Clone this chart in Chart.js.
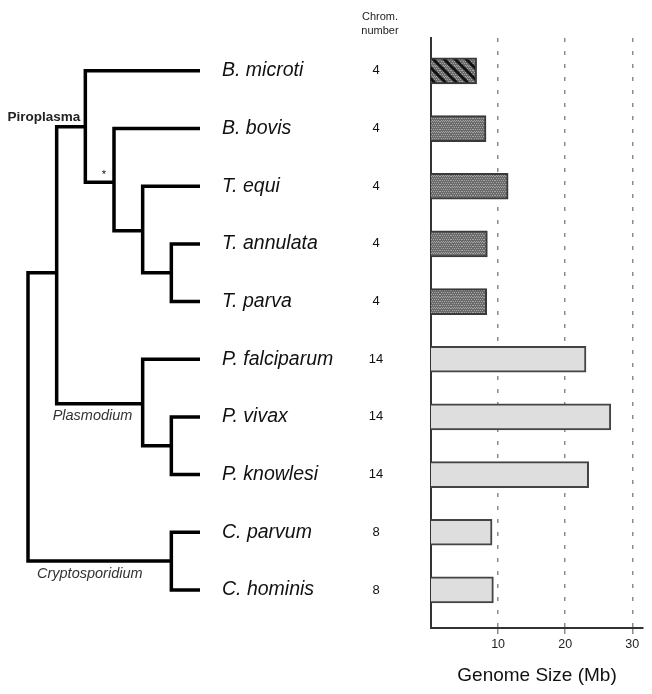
<!DOCTYPE html>
<html>
<head>
<meta charset="utf-8">
<script src="https://cdn.jsdelivr.net/npm/chart.js@4.4.1/dist/chart.umd.min.js"></script>
<style>
    html, body { margin: 0; padding: 0; background: #fff; }
    .chart-wrap { position: relative; width: 652px; height: 694px; }
    .chart-wrap canvas { position: absolute; left: 0; top: 0; }
</style>
</head>
<body>
<div class="chart-wrap">
    <canvas id="barChart" width="652" height="694"></canvas>
    <canvas id="treeChart" width="652" height="694"></canvas>
</div>
<script>
// species, top to bottom
const species = ['B. microti', 'B. bovis', 'T. equi', 'T. annulata', 'T. parva',
    'P. falciparum', 'P. vivax', 'P. knowlesi', 'C. parvum', 'C. hominis'];
const clade = ['Piroplasma', 'Piroplasma', 'Piroplasma', 'Piroplasma', 'Piroplasma',
    'Plasmodium', 'Plasmodium', 'Plasmodium', 'Cryptosporidium', 'Cryptosporidium'];
const chromNumber = [4, 4, 4, 4, 4, 14, 14, 14, 8, 8];
const genomeSize = [6.8, 8.2, 11.5, 8.4, 8.3, 23.1, 26.8, 23.5, 9.1, 9.3];
const xTicks = [10, 20, 30];

// tree: internal nodes (depth from root, row position, upper and lower child)
// a number as child means the species row, a string is another node
const nodeNames = ['root', 'apic', 'piro', 'nBov', 'nEqu', 'nThe', 'plas', 'nViv', 'cryp'];
const nodeDepth = [0, 1, 2, 3, 4, 5, 4, 5, 5];
const nodeRow = [null, 3.5, 0.97, 1.93, 2.77, 3.5, 5.77, 6.5, 8.5];
const nodeUpper = ['apic', 'piro', 0, 1, 2, 3, 5, 6, 8];
const nodeLower = ['cryp', 'plas', 'nBov', 'nEqu', 'nThe', 4, 'nViv', 7, 9];
const leafDepth = 6;

const rowMin = -0.57, rowMax = 9.66;
const FONT = "'Liberation Sans', Arial, sans-serif";

function makePattern(hatch) {
    const s = 11;
    const c = document.createElement('canvas');
    c.width = s; c.height = s;
    const g = c.getContext('2d');
    g.fillStyle = '#6b6b6b';
    g.fillRect(0, 0, s, s);
    g.fillStyle = '#a4a4a4';
    for (let y = 0; y < s; y += 2) {
        for (let x = (y % 4 ? 1 : 0); x < s; x += 2) g.fillRect(x, y, 1, 1);
    }
    if (hatch) {
        g.strokeStyle = '#111';
        g.lineWidth = 3;
        g.beginPath();
        g.moveTo(-2, -2); g.lineTo(s + 2, s + 2);
        g.moveTo(s - 3, -3); g.lineTo(s + 3, 3);
        g.moveTo(-3, s - 3); g.lineTo(3, s + 3);
        g.stroke();
    }
    return g.createPattern(c, 'repeat');
}

const stipple = makePattern(false);
const hatched = makePattern(true);

function barFill(i) {
    if (i === 0) return hatched;
    return clade[i] === 'Piroplasma' ? stipple : '#dedede';
}

function barBorder(i) {
    return clade[i] === 'Piroplasma' ? '#3a3a3a' : '#444';
}

function generateBarChart() {
    const ctx = document.getElementById('barChart').getContext('2d');
    new Chart(ctx, {
        type: 'bar',
        data: {
            datasets: [{
                data: genomeSize.map((v, i) => ({ x: v, y: i })),
                backgroundColor: c => barFill(c.dataIndex),
                borderColor: c => barBorder(c.dataIndex),
                borderWidth: 2,
                barThickness: 26
            }]
        },
        options: {
            indexAxis: 'y',
            responsive: false,
            animation: false,
            layout: { padding: { left: 431, right: 9, top: 38, bottom: 0 } },
            plugins: { legend: { display: false }, tooltip: { enabled: false } },
            scales: {
                x: {
                    type: 'linear',
                    position: 'bottom',
                    min: 0,
                    max: 31.6,
                    afterBuildTicks: s => { s.ticks = xTicks.map(v => ({ value: v })); },
                    afterFit: s => { s.height = 66; },
                    grid: { color: '#8c8c8c', lineWidth: 1.5, tickLength: 6, tickColor: '#8c8c8c' },
                    border: { display: true, color: '#333', width: 2, dash: [4, 9] },
                    ticks: { color: '#222', font: { family: FONT, size: 12.5 }, padding: 3, maxRotation: 0 },
                    title: {
                        display: true,
                        text: 'Genome Size (Mb)',
                        color: '#111',
                        font: { family: FONT, size: 19 },
                        padding: { top: 0, bottom: 7 }
                    }
                },
                y: {
                    type: 'linear',
                    reverse: true,
                    offset: false,
                    min: rowMin,
                    max: rowMax,
                    afterFit: s => { s.width = 0; },
                    ticks: { display: false },
                    grid: { display: false, offset: false },
                    border: { display: true, color: '#333', width: 2 }
                }
            }
        }
    });
}

function childPoint(ch) {
    if (typeof ch === 'number') return { x: leafDepth, y: ch };
    const j = nodeNames.indexOf(ch);
    return { x: nodeDepth[j], y: nodeRow[j] };
}

const treeLabels = {
    id: 'treeLabels',
    afterDraw(chart) {
        const { ctx, scales: { x, y } } = chart;
        const nodeX = n => x.getPixelForValue(nodeDepth[nodeNames.indexOf(n)]);
        const nodeY = n => y.getPixelForValue(nodeRow[nodeNames.indexOf(n)]);
        ctx.save();
        ctx.fillStyle = '#111';
        ctx.textBaseline = 'middle';

        // species names
        ctx.font = 'italic 19.5px ' + FONT;
        ctx.textAlign = 'left';
        species.forEach((s, i) => {
            ctx.fillText(s, x.getPixelForValue(leafDepth) + 22, y.getPixelForValue(i));
        });

        // chromosome numbers
        const chromX = x.getPixelForValue(leafDepth) + 176;
        ctx.font = '13px ' + FONT;
        ctx.textAlign = 'center';
        chromNumber.forEach((n, i) => {
            ctx.fillText(String(n), chromX, y.getPixelForValue(i));
        });
        ctx.font = '11px ' + FONT;
        ctx.fillStyle = '#222';
        ctx.fillText('Chrom.', chromX + 4, 17);
        ctx.fillText('number', chromX + 4, 31);

        // clade names
        ctx.fillStyle = '#222';
        ctx.font = 'bold 13.5px ' + FONT;
        ctx.textAlign = 'right';
        ctx.fillText('Piroplasma', nodeX('piro') - 5, nodeY('piro') - 10);

        ctx.fillStyle = '#333';
        ctx.font = 'italic 14.5px ' + FONT;
        ctx.textAlign = 'left';
        ctx.fillText('Plasmodium', nodeX('apic') - 4, nodeY('plas') + 12);
        ctx.fillText('Cryptosporidium', nodeX('root') + 9, nodeY('cryp') + 13);

        ctx.fillStyle = '#111';
        ctx.font = '11px ' + FONT;
        ctx.textAlign = 'center';
        ctx.fillText('*', nodeX('nBov') - 10, nodeY('nBov') - 7);
        ctx.restore();
    }
};

function generateTree() {
    const datasets = nodeNames.map((n, i) => {
        const a = childPoint(nodeUpper[i]);
        const b = childPoint(nodeLower[i]);
        return {
            data: [a, { x: nodeDepth[i], y: a.y }, { x: nodeDepth[i], y: b.y }, b],
            showLine: true,
            borderColor: '#000',
            borderWidth: 3.5,
            borderJoinStyle: 'miter',
            borderCapStyle: 'butt',
            pointRadius: 0,
            tension: 0,
            clip: false
        };
    });

    const ctx = document.getElementById('treeChart').getContext('2d');
    new Chart(ctx, {
        type: 'scatter',
        data: { datasets: datasets },
        options: {
            responsive: false,
            animation: false,
            layout: { padding: { left: 28, right: 452, top: 38, bottom: 66 } },
            plugins: { legend: { display: false }, tooltip: { enabled: false } },
            scales: {
                x: { type: 'linear', min: 0, max: leafDepth, display: false },
                y: { type: 'linear', reverse: true, min: rowMin, max: rowMax, display: false }
            }
        },
        plugins: [treeLabels]
    });
}

generateBarChart();
generateTree();
</script>
</body>
</html>
